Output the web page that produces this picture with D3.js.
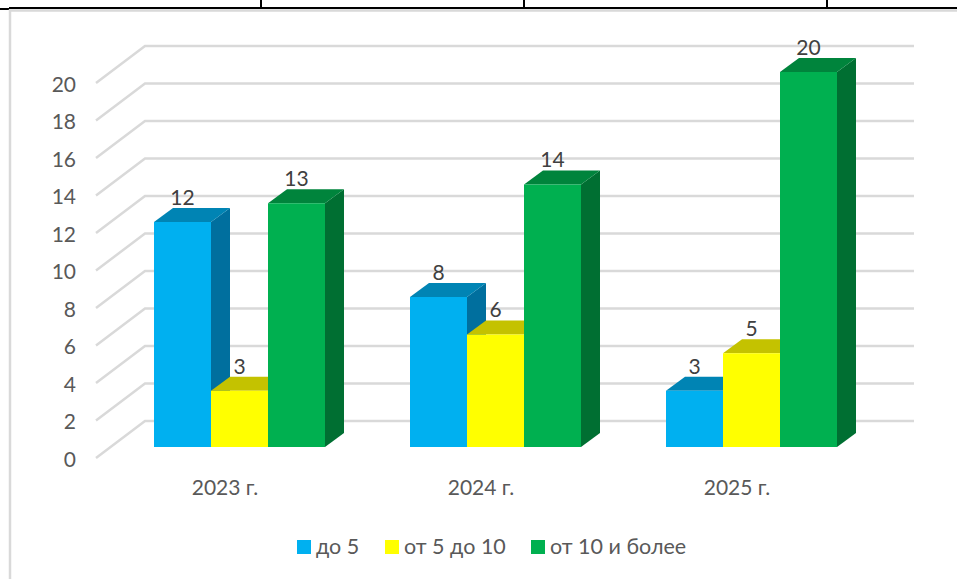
<!DOCTYPE html>
<html>
<head>
<meta charset="utf-8">
<script src="https://cdn.jsdelivr.net/npm/d3@7"></script>
<style>
  html, body { margin: 0; padding: 0; background: #fff; overflow: hidden; }
  text { font-family: Lato, "Open Sans", sans-serif; }
</style>
</head>
<body>
<div id="chart"></div>
<script>
const categories = ['2023 г.', '2024 г.', '2025 г.'];
const seriesNames = ['до 5', 'от 5 до 10', 'от 10 и более'];
const upTo5 = [12, 8, 3];
const from5To10 = [3, 6, 5];
const from10 = [13, 14, 20];
const yTicks = [0, 2, 4, 6, 8, 10, 12, 14, 16, 18, 20];
const seriesValues = [upTo5, from5To10, from10];
const frontColors = ['#00b0f0', '#ffff00', '#00b050'];
const topColors = ['#0084b4', '#c4c200', '#00843c'];
const sideColors = ['#006f9e', '#a8a600', '#006f32'];

const svg = d3.select('#chart').append('svg')
  .attr('width', 957)
  .attr('height', 579);

// Table lines above the chart frame
const page = svg.append('g').attr('stroke', '#000').attr('stroke-width', 2);
page.append('line').attr('x1', 9).attr('x2', 957).attr('y1', 8).attr('y2', 8);
page.append('line').attr('x1', 0).attr('x2', 9).attr('y1', 9).attr('y2', 9);
[261, 524, 827].forEach(x => {
  page.append('line').attr('x1', x).attr('x2', x).attr('y1', 0).attr('y2', 8);
});

// Chart frame
svg.append('path')
  .attr('d', 'M10,579V10.5H957')
  .attr('fill', 'none')
  .attr('stroke', '#d9d9d9')
  .attr('stroke-width', 2.5);

// Scales work on the front plane of the bars
const y = d3.scaleLinear().domain([0, 20]).range([447, 72]);
const x0 = d3.scaleBand().domain(categories).range([111.5, 879.5]);
const x1 = d3.scaleBand().domain(seriesNames).range([0, 171]);
const groupOffset = (x0.bandwidth() - x1.range()[1]) / 2;

const barDepth = { x: 19, y: 14 };
const wall = { front: 96, back: 145, right: 914, frontDown: 11, backUp: 26 };

// Gridlines: floor/side segment plus back wall segment
svg.append('g')
  .selectAll('path')
  .data(yTicks)
  .join('path')
  .attr('d', d => `M${wall.front},${y(d) + wall.frontDown}L${wall.back},${y(d) - wall.backUp}H${wall.right}`)
  .attr('fill', 'none')
  .attr('stroke', '#d9d9d9')
  .attr('stroke-width', 2.5);

// Axes
const yAxis = svg.append('g')
  .attr('transform', `translate(76,${wall.frontDown + 1.5})`)
  .call(d3.axisLeft(y).tickValues(yTicks).tickSize(0).tickPadding(0));
const xAxis = svg.append('g')
  .attr('transform', 'translate(-14.5,480)')
  .call(d3.axisBottom(x0).tickSize(0).tickPadding(0));
[yAxis, xAxis].forEach(axis => {
  axis.select('.domain').remove();
  axis.selectAll('text')
    .attr('fill', '#595959')
    .style('font-size', '21px')
    .style('font-family', 'Lato, "Open Sans", sans-serif');
});

// Bars, left to right so each one covers the side of the previous one
categories.forEach((cat, c) => {
  const group = svg.append('g')
    .attr('transform', `translate(${x0(cat) + groupOffset},0)`);

  seriesNames.forEach((name, s) => {
    const v = seriesValues[s][c];
    const left = x1(name);
    const right = left + x1.bandwidth();
    const top = y(v);
    const base = y(0);
    const bar = group.append('g');

    bar.append('path')
      .attr('d', `M${right},${top}L${right + barDepth.x},${top - barDepth.y}V${base - barDepth.y}L${right},${base}Z`)
      .attr('fill', sideColors[s]);
    bar.append('path')
      .attr('d', `M${left},${top}L${left + barDepth.x},${top - barDepth.y}H${right + barDepth.x}L${right},${top}Z`)
      .attr('fill', topColors[s]);
    bar.append('rect')
      .attr('x', left)
      .attr('y', top)
      .attr('width', x1.bandwidth())
      .attr('height', base - top)
      .attr('fill', frontColors[s]);
  });

  // Data labels go on top of all three bars
  seriesNames.forEach((name, s) => {
    const v = seriesValues[s][c];
    group.append('text')
      .attr('x', x1(name) + x1.bandwidth() / 2)
      .attr('y', y(v) - barDepth.y - 10.5)
      .attr('dy', '0.35em')
      .attr('text-anchor', 'middle')
      .attr('fill', '#404040')
      .style('font-size', '21px')
      .text(v);
  });
});

// Legend
const legendX = d3.scaleOrdinal().domain(seriesNames).range([297, 385, 531]);
const legend = svg.append('g')
  .selectAll('g')
  .data(seriesNames)
  .join('g')
  .attr('transform', d => `translate(${legendX(d)},540)`);
legend.append('rect')
  .attr('width', 14)
  .attr('height', 14)
  .attr('fill', (d, i) => frontColors[i]);
legend.append('text')
  .attr('x', 19)
  .attr('y', 6)
  .attr('dy', '0.35em')
  .attr('fill', '#595959')
  .style('font-size', '21.5px')
  .text(d => d);
</script>
</body>
</html>
